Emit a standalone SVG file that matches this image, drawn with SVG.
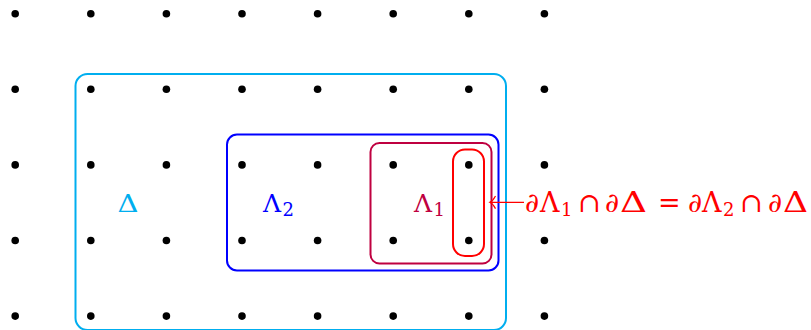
<svg xmlns="http://www.w3.org/2000/svg" width="811" height="330" viewBox="0 0 811 330">
<style>
.dot{fill:#000}
.box{fill:none;stroke-width:2}
.lbl{font-family:"DejaVu Serif","Liberation Serif",serif;font-size:25px}
.eq{font-family:"DejaVu Serif","Liberation Serif",serif;font-size:27px;fill:#FF0000}
.sub{font-size:18px}
.it{font-style:italic}
</style>
<rect width="811" height="330" fill="#fff"/>
<g id="dots">
<g id="row0"><circle class="dot" cx="15.2" cy="13.7" r="3.8"/><circle class="dot" cx="90.8" cy="13.7" r="3.8"/><circle class="dot" cx="166.4" cy="13.7" r="3.8"/><circle class="dot" cx="242" cy="13.7" r="3.8"/><circle class="dot" cx="317.6" cy="13.7" r="3.8"/><circle class="dot" cx="393.2" cy="13.7" r="3.8"/><circle class="dot" cx="468.8" cy="13.7" r="3.8"/><circle class="dot" cx="544.4" cy="13.7" r="3.8"/></g>
<g id="row1"><circle class="dot" cx="15.2" cy="89.3" r="3.8"/><circle class="dot" cx="90.8" cy="89.3" r="3.8"/><circle class="dot" cx="166.4" cy="89.3" r="3.8"/><circle class="dot" cx="242" cy="89.3" r="3.8"/><circle class="dot" cx="317.6" cy="89.3" r="3.8"/><circle class="dot" cx="393.2" cy="89.3" r="3.8"/><circle class="dot" cx="468.8" cy="89.3" r="3.8"/><circle class="dot" cx="544.4" cy="89.3" r="3.8"/></g>
<g id="row2"><circle class="dot" cx="15.2" cy="164.9" r="3.8"/><circle class="dot" cx="90.8" cy="164.9" r="3.8"/><circle class="dot" cx="166.4" cy="164.9" r="3.8"/><circle class="dot" cx="242" cy="164.9" r="3.8"/><circle class="dot" cx="317.6" cy="164.9" r="3.8"/><circle class="dot" cx="393.2" cy="164.9" r="3.8"/><circle class="dot" cx="468.8" cy="164.9" r="3.8"/><circle class="dot" cx="544.4" cy="164.9" r="3.8"/></g>
<g id="row3"><circle class="dot" cx="15.2" cy="240.5" r="3.8"/><circle class="dot" cx="90.8" cy="240.5" r="3.8"/><circle class="dot" cx="166.4" cy="240.5" r="3.8"/><circle class="dot" cx="242" cy="240.5" r="3.8"/><circle class="dot" cx="317.6" cy="240.5" r="3.8"/><circle class="dot" cx="393.2" cy="240.5" r="3.8"/><circle class="dot" cx="468.8" cy="240.5" r="3.8"/><circle class="dot" cx="544.4" cy="240.5" r="3.8"/></g>
<g id="row4"><circle class="dot" cx="15.2" cy="316.1" r="3.8"/><circle class="dot" cx="90.8" cy="316.1" r="3.8"/><circle class="dot" cx="166.4" cy="316.1" r="3.8"/><circle class="dot" cx="242" cy="316.1" r="3.8"/><circle class="dot" cx="317.6" cy="316.1" r="3.8"/><circle class="dot" cx="393.2" cy="316.1" r="3.8"/><circle class="dot" cx="468.8" cy="316.1" r="3.8"/><circle class="dot" cx="544.4" cy="316.1" r="3.8"/></g>
</g>
<g id="delta">
<rect class="box" x="75.5" y="74" width="430.5" height="256" rx="12" stroke="#00AEEF"/>
<text class="lbl" x="117.5" y="212" fill="#00AEEF" textLength="21" lengthAdjust="spacingAndGlyphs">Δ</text>
</g>
<g id="lambda2">
<rect class="box" x="227" y="134.5" width="271.5" height="136" rx="10" stroke="#0000FF"/>
<text class="lbl" x="263" y="212" fill="#0000FF">Λ<tspan class="sub" x="282.5" dy="4">2</tspan></text>
</g>
<g id="lambda1">
<rect class="box" x="370.5" y="143" width="121" height="120.5" rx="9" stroke="#BF0040"/>
<text class="lbl" x="414" y="212" fill="#BF0040">Λ<tspan class="sub" x="433.5" dy="4">1</tspan></text>
</g>
<g id="boundary">
<rect class="box" x="453" y="149.5" width="31" height="106.5" rx="12" stroke="#FF0000"/>
</g>
<g id="connectors">
<line x1="524" y1="202.3" x2="490" y2="202.3" stroke="#FF0000" stroke-width="1.2"/>
<path d="M495.5,196 Q493,200.8 489.8,202.3 Q493,203.8 495.5,208.6" fill="none" stroke="#FF0000" stroke-width="1.2"/>
</g>
<g id="eqlabel">
<text class="eq" y="211.5"><tspan class="it" x="525">∂</tspan><tspan x="540">Λ</tspan><tspan class="sub" x="561" dy="4">1</tspan><tspan x="578" dy="-4">∩</tspan><tspan class="it" x="605">∂</tspan><tspan x="658">=</tspan><tspan class="it" x="688">∂</tspan><tspan x="702">Λ</tspan><tspan class="sub" x="723" dy="4">2</tspan><tspan x="740" dy="-4">∩</tspan><tspan class="it" x="768">∂</tspan></text>
<text class="eq" x="620" y="211.5" textLength="27" lengthAdjust="spacingAndGlyphs">Δ</text>
<text class="eq" x="783" y="211.5" textLength="25" lengthAdjust="spacingAndGlyphs">Δ</text>
</g>
</svg>
